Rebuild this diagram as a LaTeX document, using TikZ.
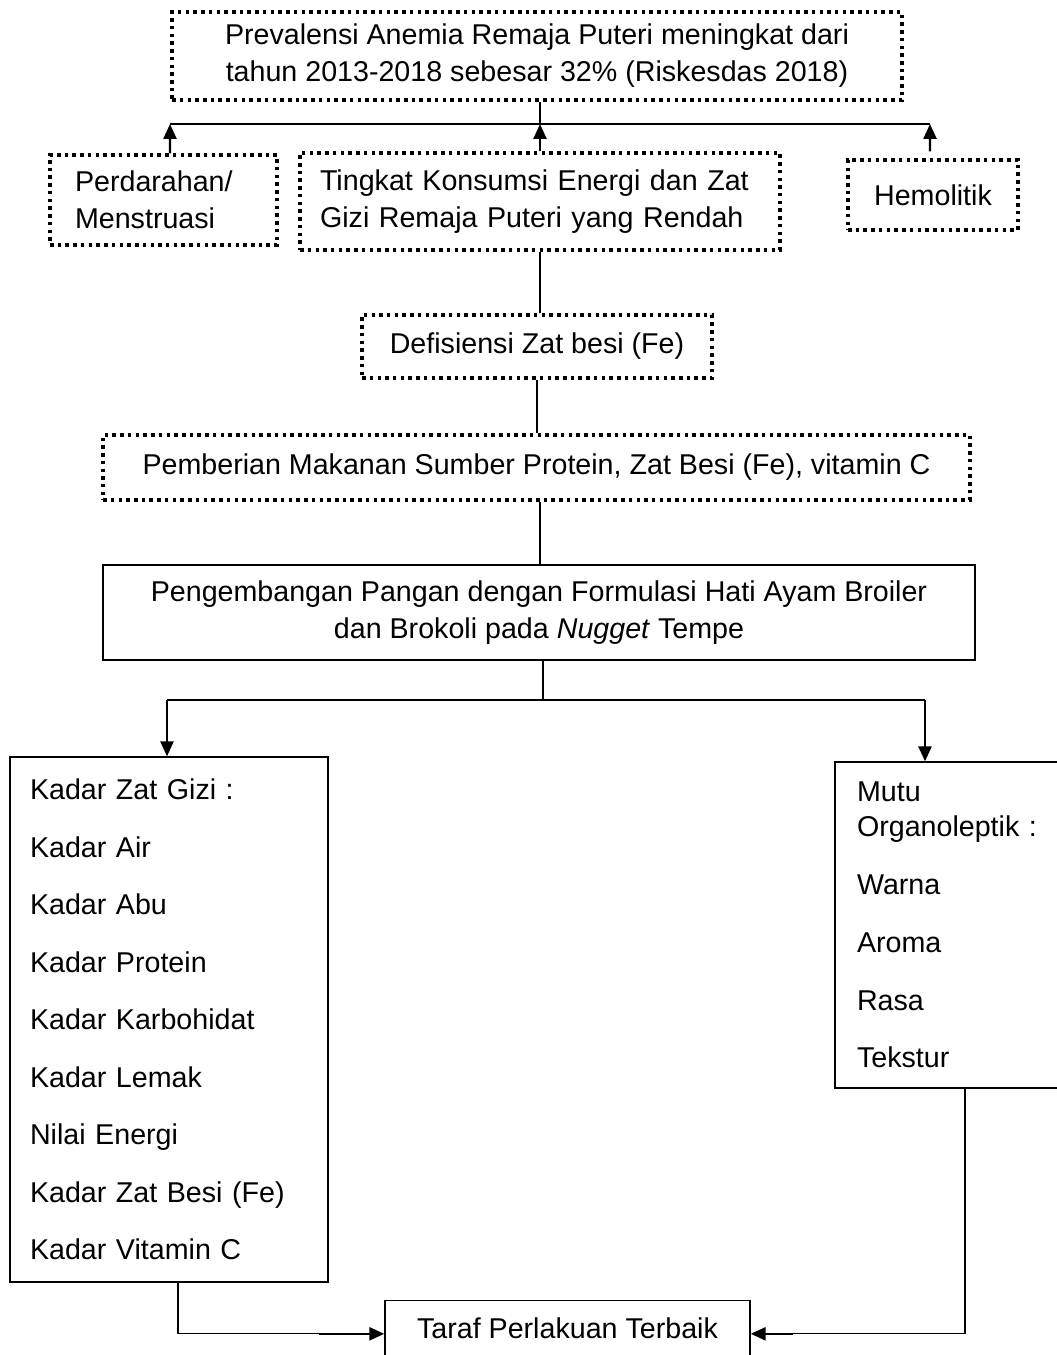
\documentclass[tikz,border=0pt]{standalone}
\usepackage{fontspec}
\setmainfont{Liberation Sans}
\usetikzlibrary{arrows.meta}

\begin{document}
\begin{tikzpicture}[x=0.02cm, y=-0.02cm,
  every node/.style={font=\fontsize{16.3}{21}\selectfont, inner sep=0pt},
  dot box/.style={draw, line width=2pt, dash pattern=on 2pt off 2.4pt},
  plain box/.style={draw, line width=0.8pt},
  link/.style={line width=0.7pt},
  arr/.style={line width=1.4pt, -{Triangle[length=0.3cm,width=0.26cm]}}]
\useasboundingbox (0,0) rectangle (1057,1355);
\clip (0,0) rectangle (1057,1355);

\node [dot box, minimum width=14.6cm, minimum height=1.76cm, align=center] (prevalensi) at (537,56)
  {Prevalensi Anemia Remaja Puteri meningkat dari\\tahun 2013-2018 sebesar 32\% (Riskesdas 2018)};
\node [dot box, inner xsep=0.5cm, text width=3.54cm, minimum height=1.8cm, align=left] (perdarahan) at (163.5,200)
  {Perdarahan/\\Menstruasi};
\node [dot box, inner xsep=0.4cm, text width=8.8cm, minimum height=1.94cm, align=left] (tingkat) at (540,201.5)
  {Tingkat Konsumsi Energi dan Zat\\Gizi Remaja Puteri yang Rendah};
\node [dot box, minimum width=3.4cm, minimum height=1.4cm] (hemolitik) at (933,195) {Hemolitik};
\node [dot box, minimum width=7cm, minimum height=1.26cm] (defisiensi) at (537,346.5) {Defisiensi Zat besi (Fe)};
\node [dot box, minimum width=17.34cm, minimum height=1.3cm] (pemberian) at (536.5,467.5)
  {Pemberian Makanan Sumber Protein, Zat Besi (Fe), vitamin C};
\node [plain box, minimum width=17.44cm, minimum height=1.9cm, align=center] (pengembangan) at (539,612.5)
  {Pengembangan Pangan dengan Formulasi Hati Ayam Broiler\\dan Brokoli pada \textit{Nugget} Tempe};

\node [plain box, inner xsep=0.4cm, text width=5.56cm, minimum height=10.5cm, align=left,
  font=\fontsize{16.3}{32.75}\selectfont] (kadar) at (169,1019.5)
  {Kadar Zat Gizi :\\Kadar Air\\Kadar Abu\\Kadar Protein\\Kadar Karbohidat\\Kadar Lemak\\Nilai Energi\\Kadar Zat Besi (Fe)\\Kadar Vitamin C};
\node [plain box, inner xsep=0.44cm, text width=4.02cm, minimum height=6.52cm, align=left,
  font=\fontsize{16.3}{32.9}\selectfont] (mutu) at (957.5,925)
  {Mutu\\[-13pt]Organoleptik :\\Warna\\Aroma\\Rasa\\Tekstur};
\node [plain box, anchor=north, minimum width=7.3cm, inner ysep=0.34cm, text depth=0.8cm] (taraf) at (567.5,1300)
  {Taraf Perlakuan Terbaik};

% top connections
\coordinate (bar left) at (170,124);
\coordinate (bar right) at (930,124);
\draw [link] (bar left) -- (bar right);
\draw [arr] ([xshift=0.13cm]perdarahan.north) -- (bar left);
\draw [arr] (tingkat.north) -- (tingkat.north |- bar left);
\draw [link] (tingkat.north |- bar left) -- (tingkat.north |- prevalensi.south);
\draw [arr] ([xshift=-0.06cm,yshift=0.14cm]hemolitik.north) -- (bar right);

\draw [link] (tingkat.south) -- (tingkat.south |- defisiensi.north);
\draw [link] (defisiensi.south) -- (defisiensi.south |- pemberian.north);
\draw [link] ([xshift=0.07cm]pemberian.south) -- ([xshift=0.07cm]pemberian.south |- pengembangan.north);

% split
\coordinate (split) at (543,700);
\coordinate (split left) at (167,700);
\coordinate (split right) at (925,700);
\draw [link] (pengembangan.south -| split) -- (split);
\draw [link] (split left) -- (split right);
\draw [arr] (split left) -- (split left |- kadar.north);
\draw [arr] (split right) -- (split right |- mutu.north);

% bottom
\draw [link] ([xshift=0.18cm]kadar.south) |- ([xshift=-1.3cm]taraf.mid west);
\draw [arr] ([xshift=-1.3cm]taraf.mid west) -- (taraf.mid west);
\draw [link] ([xshift=0.15cm]mutu.south) |- ([xshift=0.85cm]taraf.mid east);
\draw [arr] ([xshift=0.85cm]taraf.mid east) -- (taraf.mid east);
\end{tikzpicture}
\end{document}
